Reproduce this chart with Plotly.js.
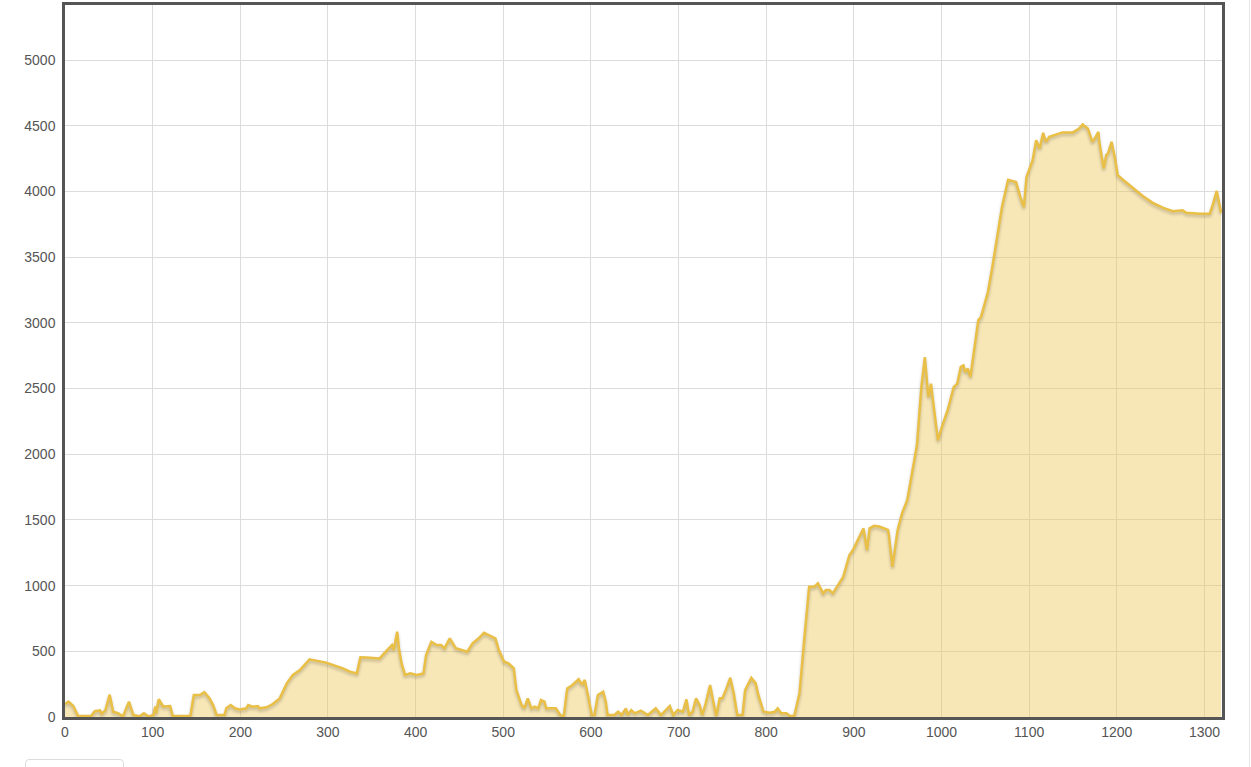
<!DOCTYPE html>
<html>
<head>
<meta charset="utf-8">
<script src="https://cdn.plot.ly/plotly-3.0.1.min.js"></script>
<style>
  html, body { margin: 0; padding: 0; background: #fff; }
  #chart { width: 1251px; height: 767px; position: absolute; left: 0; top: 0; }
  #btn { position: absolute; left: 25px; top: 759px; width: 97px; height: 20px; border: 1px solid #ddd; border-radius: 4px; background: #fff; }
  #edge { position: absolute; left: 1249px; top: 0; width: 1px; height: 767px; background: #e6e6e6; }
  #chart .scatterlayer .js-line { filter: drop-shadow(0px 2px 1.5px rgba(0,0,0,0.22)); }
</style>
</head>
<body>
<div id="chart"></div>
<div id="btn"></div>
<div id="edge"></div>
<script>
// distance (x) values
const distance = [
  0, 4, 9.5, 15, 30, 34, 40, 42, 46, 51, 55, 61, 66, 73, 78, 85, 90, 95, 101, 103, 104, 107, 112, 116, 120, 123,
  143, 147, 154, 159, 165, 169, 173, 182, 184, 189, 194, 199, 207, 209, 214, 220, 222, 230, 237, 245, 253, 260,
  268, 279, 298, 317, 325, 333, 337, 344, 359, 367, 373, 375, 379, 381, 384, 388, 394, 401, 409, 412, 418, 424,
  429, 433, 439, 446, 454, 459, 465, 472, 478, 484, 491, 495, 501, 506, 512, 515, 521, 524, 528, 532, 536, 540,
  543, 547, 549, 560, 565, 569, 573, 579, 586, 590, 593, 597, 601, 604, 608, 614, 617, 619, 627, 631, 635, 640,
  642, 646, 650, 657, 665, 674, 680, 690, 694, 699, 705, 709, 712, 716, 720, 724, 727, 731, 736, 740, 743, 747,
  750, 754, 759, 763, 767, 773, 776, 783, 788, 791, 797, 804, 810, 813, 817, 823, 827, 832, 838, 843, 849, 855,
  859, 865, 868, 872, 876, 888, 895, 899, 911, 915, 918, 923, 929, 939, 940, 944, 950, 955, 961, 966, 972, 977,
  981, 985, 988, 990, 996, 1001, 1007, 1014, 1018, 1022, 1025, 1027, 1030, 1033, 1037, 1042, 1045, 1053, 1058,
  1064, 1069, 1076, 1083, 1085, 1090, 1094, 1097, 1104, 1108, 1112, 1116, 1119, 1123, 1129, 1138, 1150, 1157,
  1161, 1167, 1172, 1175, 1179, 1180, 1185, 1188, 1190, 1194, 1198, 1201, 1207, 1218, 1230, 1241, 1253, 1264,
  1275, 1279, 1294, 1306, 1309, 1314, 1319
];
// elevation (y) values
const elevation = [
  99, 117, 84, 8, 10, 45, 50, 25, 50, 170, 40, 28, 3, 117, 15, 5, 28, 5, 15, 80, 28, 135, 80, 84, 84, 8,
  8, 168, 168, 190, 142, 91, 15, 15, 66, 91, 66, 58, 66, 91, 79, 84, 66, 74, 99, 142, 256, 320,
  358, 439, 414, 370, 345, 332, 454, 452, 446, 505, 548, 510, 650, 522, 408, 320, 332, 320, 332, 472, 573, 548,
  548, 523, 599, 523, 510, 497, 561, 599, 642, 624, 599, 510, 421, 408, 370, 205, 91, 66, 142, 66, 79, 66,
  129, 117, 66, 66, 15, 3, 218, 244, 287, 244, 282, 155, 15, 15, 168, 193, 117, 15, 15, 40, 15, 66,
  15, 53, 28, 48, 15, 66, 15, 84, 15, 53, 40, 134, 15, 40, 142, 91, 15, 104, 244, 104, 8, 142,
  142, 205, 299, 180, 15, 15, 205, 299, 256, 168, 40, 33, 40, 66, 28, 28, 8, 8, 180, 561, 992, 992,
  1017, 941, 967, 967, 941, 1068, 1233, 1271, 1436, 1271, 1436, 1455, 1450, 1424, 1386, 1144, 1424, 1550, 1652, 1842, 2070, 2512,
  2740, 2436, 2537, 2423, 2106, 2220, 2335, 2512, 2537, 2665, 2677, 2627, 2652, 2589, 2791, 3021, 3044, 3235, 3425,
  3680, 3882, 4090, 4072, 4072, 3958, 3882, 4110, 4239, 4391, 4328, 4447, 4379, 4417, 4430, 4450, 4450, 4480,
  4510, 4480, 4379, 4405, 4455, 4379, 4176, 4278, 4290, 4379, 4252, 4125, 4090, 4027, 3964, 3914, 3875, 3850,
  3857, 3838, 3830, 3830, 3888, 4005, 3838
];
const xTicks = [0, 100, 200, 300, 400, 500, 600, 700, 800, 900, 1000, 1100, 1200, 1300];
const yTicks = [0, 500, 1000, 1500, 2000, 2500, 3000, 3500, 4000, 4500, 5000];

const trace = {
  x: distance,
  y: elevation,
  type: 'scatter',
  mode: 'lines',
  fill: 'tozeroy',
  fillcolor: 'rgba(236,196,80,0.42)',
  line: { color: '#e9bf45', width: 2.5 },
  hoverinfo: 'x+y'
};

const layout = {
  width: 1251,
  height: 767,
  margin: { l: 65, r: 29, t: 5, b: 50 },
  paper_bgcolor: '#ffffff',
  plot_bgcolor: '#ffffff',
  showlegend: false,
  font: { family: 'Liberation Sans, Arial, sans-serif', size: 14, color: '#555' },
  xaxis: {
    range: [0, 1320],
    tickvals: xTicks,
    ticktext: xTicks.map(String),
    showgrid: true,
    gridcolor: '#dcdcdc',
    gridwidth: 1,
    zeroline: false,
    showline: true,
    linecolor: '#555',
    linewidth: 2.5,
    mirror: true,
    ticks: '',
    tickfont: { size: 14, color: '#555' }
  },
  yaxis: {
    range: [0, 5420],
    tickvals: yTicks,
    ticktext: yTicks.map(String),
    showgrid: true,
    gridcolor: '#dcdcdc',
    gridwidth: 1,
    zeroline: false,
    showline: true,
    linecolor: '#555',
    linewidth: 2.5,
    mirror: true,
    ticks: '',
    ticklabelstandoff: 4,
    tickfont: { size: 14, color: '#555' }
  }
};

Plotly.newPlot('chart', [trace], layout, { displayModeBar: false, responsive: false });
</script>
</body>
</html>
